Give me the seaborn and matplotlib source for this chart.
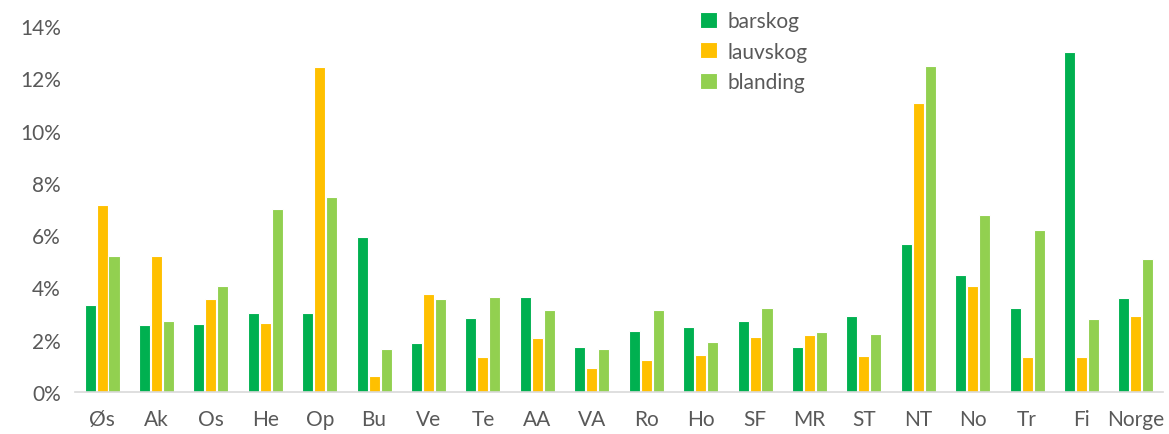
import pandas as pd
import matplotlib.pyplot as plt
import seaborn as sns
from matplotlib.ticker import PercentFormatter

# share of forest area per county and forest type
regions = ['Øs', 'Ak', 'Os', 'He', 'Op', 'Bu', 'Ve', 'Te', 'AA', 'VA',
           'Ro', 'Ho', 'SF', 'MR', 'ST', 'NT', 'No', 'Tr', 'Fi', 'Norge']
barskog = [3.34, 2.56, 2.60, 3.03, 3.02, 5.91, 1.87, 2.83, 3.64, 1.72,
           2.34, 2.49, 2.73, 1.73, 2.92, 5.66, 4.49, 3.20, 13.01, 3.61]
lauvskog = [7.16, 5.19, 3.57, 2.65, 12.44, 0.62, 3.75, 1.35, 2.08, 0.93,
            1.24, 1.43, 2.12, 2.17, 1.36, 11.05, 4.07, 1.35, 1.35, 2.91]
blanding = [5.19, 2.70, 4.07, 7.00, 7.44, 1.66, 3.56, 3.64, 3.14, 1.64,
            3.14, 1.92, 3.22, 2.31, 2.23, 12.45, 6.78, 6.19, 2.78, 5.10]
types = ['barskog', 'lauvskog', 'blanding']
colors = ['#00B050', '#FFC000', '#92D050']

rows = []
for t, vals in zip(types, [barskog, lauvskog, blanding]):
    for r, v in zip(regions, vals):
        rows.append({'region': r, 'type': t, 'share': v / 100})
df = pd.DataFrame(rows)

sns.set_style('white')
plt.rcParams['font.family'] = ['Lato', 'DejaVu Sans']
grey = '#595959'

fig = plt.figure(figsize=(11.69, 4.35), dpi=100)
ax = fig.add_axes([0.064, 0.0966, 0.931, 0.8414])

sns.barplot(data=df, x='region', y='share', hue='type', hue_order=types,
            palette=colors, saturation=1, width=0.66, gap=0.08,
            edgecolor='white', linewidth=0.8, ax=ax)

ax.set_ylim(0, 0.14)
ax.set_xlim(-0.5, 19.5)
ax.set_yticks([i / 100 for i in range(0, 15, 2)])
ax.yaxis.set_major_formatter(PercentFormatter(1.0, decimals=0))
ax.set_xlabel('')
ax.set_ylabel('')
ax.tick_params(axis='both', length=0, labelsize=15, labelcolor=grey)
ax.tick_params(axis='x', pad=12)
ax.tick_params(axis='y', pad=10)
for side in ['top', 'right', 'left']:
    ax.spines[side].set_visible(False)
ax.spines['bottom'].set_color('#D9D9D9')
ax.spines['bottom'].set_linewidth(1.2)

handles, labels = ax.get_legend_handles_labels()
ax.legend(handles, labels, loc='upper left', bbox_to_anchor=(0.583, 1.015),
          bbox_transform=fig.transFigure, frameon=False, fontsize=15,
          labelcolor=grey, handlelength=0.8, handleheight=0.8,
          handletextpad=0.5, labelspacing=0.5)

plt.savefig('out.png', dpi=100)
